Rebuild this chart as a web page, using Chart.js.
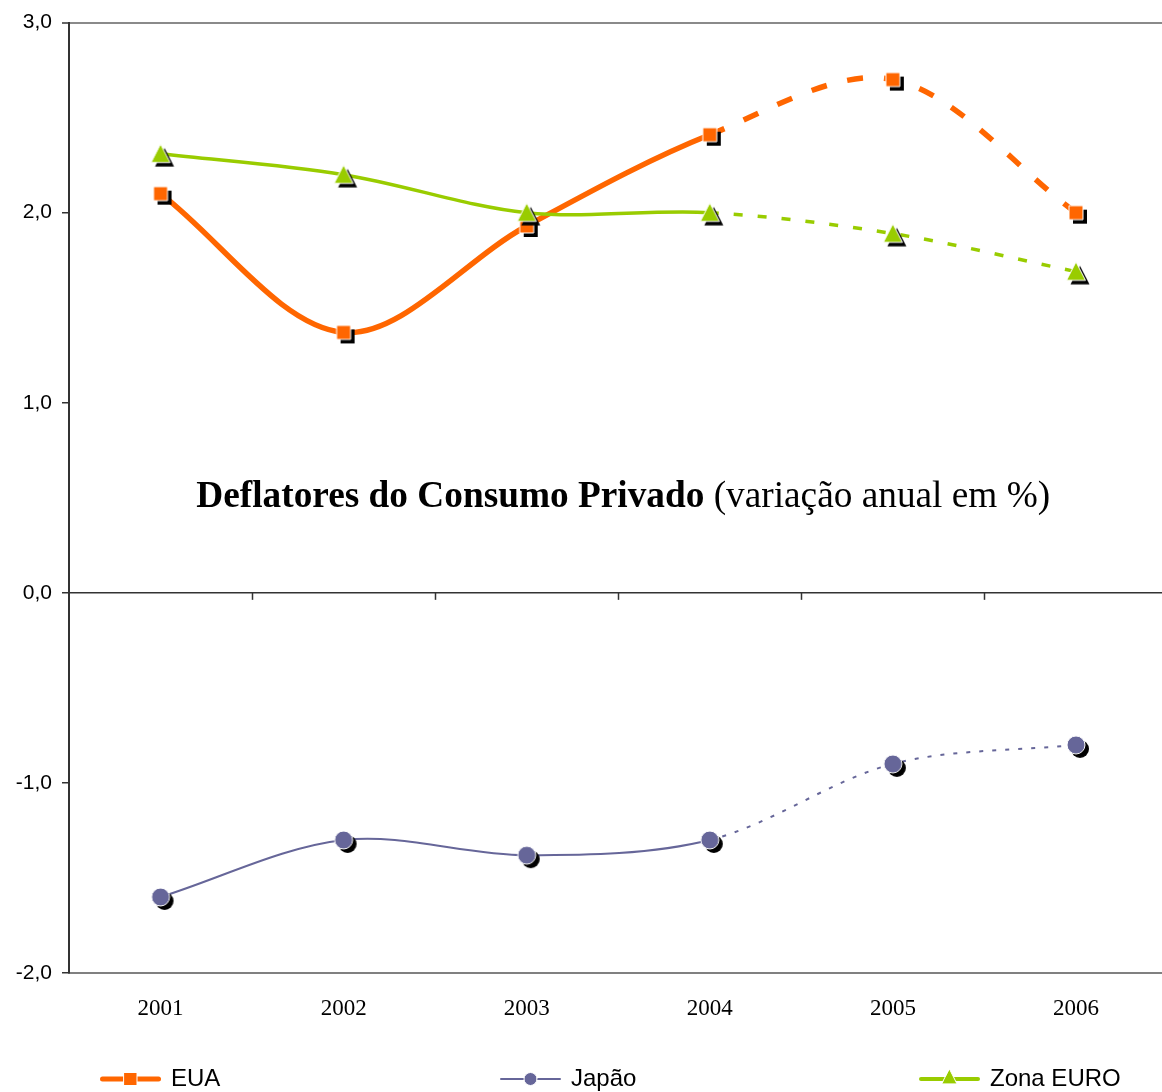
<!DOCTYPE html>
<html>
<head>
<meta charset="utf-8">
<script src="https://cdn.jsdelivr.net/npm/chart.js@4/dist/chart.umd.min.js"></script>
<style>
  html, body { margin: 0; padding: 0; background: #fff; overflow: hidden; }
  #wrap { width: 1162px; height: 1092px; overflow: hidden; position: relative; }
  canvas { display: block; }
</style>
</head>
<body>
<div id="wrap"><canvas id="c" width="1181" height="1092" style="width:1181px;height:1092px"></canvas></div>
<script>
// ---- data ----
const years = ['2001', '2002', '2003', '2004', '2005', '2006'];
const eua = [2.10, 1.37, 1.93, 2.41, 2.70, 2.00];
const japao = [-1.60, -1.30, -1.38, -1.30, -0.90, -0.80];
const zonaEuro = [2.31, 2.20, 2.00, 2.00, 1.89, 1.69];
const yTickValues = [-2, -1, 0, 1, 2, 3];
const yTickLabels = ['-2,0', '-1,0', '0,0', '1,0', '2,0', '3,0'];
const seriesNames = ['EUA', 'Japão', 'Zona EURO'];
const lastActualIndex = 3; // 2004: later years are forecasts (dashed)
const titleBold = 'Deflatores do Consumo Privado';
const titleNormal = ' (variação anual em %)';

const COL_EUA = '#FF6600';
const COL_JAP = '#666699';
const COL_EUR = '#99CC00';

function drawShape(ctx, shape, cx, cy, size, fill, stroke) {
  ctx.beginPath();
  if (shape === 'square') {
    ctx.rect(cx - size / 2, cy - size / 2, size, size);
  } else if (shape === 'circle') {
    ctx.arc(cx, cy, size / 2, 0, Math.PI * 2);
  } else if (shape === 'triangle') {
    const h = size * 0.92;
    ctx.moveTo(cx, cy - h / 2 - 1);
    ctx.lineTo(cx + size / 2, cy + h / 2);
    ctx.lineTo(cx - size / 2, cy + h / 2);
    ctx.closePath();
  }
  ctx.fillStyle = fill;
  ctx.fill();
  if (stroke) {
    ctx.lineWidth = 1;
    ctx.strokeStyle = stroke;
    ctx.stroke();
  }
}

function makeMarker(shape, color, size, off) {
  const c = document.createElement('canvas');
  const half = Math.ceil(size / 2 + off + 3);
  c.width = c.height = half * 2;
  const ctx = c.getContext('2d');
  drawShape(ctx, shape, half + off, half + off, size, '#000', null);
  drawShape(ctx, shape, half, half, size, color, '#fff');
  return c;
}

const mkEua = makeMarker('square', COL_EUA, 14, 4);
const mkJap = makeMarker('circle', COL_JAP, 18, 4);
const mkEur = makeMarker('triangle', COL_EUR, 19, 4);

function dashAfter(pattern) {
  return ctx => (ctx.p0DataIndex >= lastActualIndex ? pattern : undefined);
}

const extras = {
  id: 'extras',
  afterDatasetsDraw(chart) {
    const ctx = chart.ctx;
    const x = chart.scales.x, y = chart.scales.y;
    // small tick marks on the zero line, between categories
    const y0 = y.getPixelForValue(0);
    ctx.save();
    ctx.strokeStyle = '#333';
    ctx.lineWidth = 1.5;
    for (let i = 1; i < years.length; i++) {
      const px = Math.round((x.getPixelForValue(i - 1) + x.getPixelForValue(i)) / 2) + 0.5;
      ctx.beginPath();
      ctx.moveTo(px, y0);
      ctx.lineTo(px, y0 + 7);
      ctx.stroke();
    }
    ctx.restore();
  },
  afterDraw(chart) {
    const ctx = chart.ctx;
    const area = chart.chartArea;
    const y = chart.scales.y;
    // title inside plot
    ctx.save();
    ctx.fillStyle = '#000';
    ctx.textBaseline = 'alphabetic';
    const fB = 'bold 37.3px "Liberation Serif", "Times New Roman", serif';
    const fN = '37.3px "Liberation Serif", "Times New Roman", serif';
    ctx.font = fB; const wB = ctx.measureText(titleBold).width;
    ctx.font = fN; const wN = ctx.measureText(titleNormal).width;
    const cx = (area.left + area.right) / 2 + 5;
    const tx = cx - (wB + wN) / 2;
    const ty = y.getPixelForValue(0.45);
    ctx.font = fB; ctx.fillText(titleBold, tx, ty);
    ctx.font = fN; ctx.fillText(titleNormal, tx + wB, ty);
    ctx.restore();

    // legend
    const ly = 1079;
    const items = [
      { x: 100, color: COL_EUA, lw: 5, shape: 'square', size: 13, name: seriesNames[0] },
      { x: 500, color: COL_JAP, lw: 2, shape: 'circle', size: 13, name: seriesNames[1] },
      { x: 919, color: COL_EUR, lw: 4, shape: 'triangle', size: 15, name: seriesNames[2] }
    ];
    ctx.save();
    items.forEach(it => {
      const len = 61;
      ctx.strokeStyle = it.color;
      ctx.lineWidth = it.lw;
      ctx.lineCap = 'round';
      ctx.beginPath();
      ctx.moveTo(it.x + it.lw / 2, ly);
      ctx.lineTo(it.x + len - it.lw / 2, ly);
      ctx.stroke();
      drawShape(ctx, it.shape, it.x + len / 2, ly - (it.shape === 'triangle' ? 2 : 0), it.size, it.color, '#fff');
      ctx.fillStyle = '#000';
      ctx.font = '24px "Liberation Sans", Arial, sans-serif';
      ctx.textBaseline = 'middle';
      ctx.fillText(it.name, it.x + len + 10, ly);
    });
    ctx.restore();
  }
};

new Chart(document.getElementById('c'), {
  type: 'line',
  data: {
    labels: years,
    datasets: [
      {
        label: seriesNames[2], data: zonaEuro,
        borderColor: COL_EUR, borderWidth: 3.5, tension: 0.33,
        pointStyle: mkEur, pointRadius: 9, pointHoverRadius: 9,
        segment: { borderDash: dashAfter([9, 15]) }
      },
      {
        label: seriesNames[0], data: eua,
        borderColor: COL_EUA, borderWidth: 5.5, tension: 0.33,
        pointStyle: mkEua, pointRadius: 8, pointHoverRadius: 8,
        segment: { borderDash: dashAfter([16, 21]) }
      },
      {
        label: seriesNames[1], data: japao,
        borderColor: COL_JAP, borderWidth: 2, tension: 0.33,
        pointStyle: mkJap, pointRadius: 9, pointHoverRadius: 9,
        segment: { borderDash: dashAfter([4, 9]) }
      }
    ]
  },
  options: {
    responsive: false,
    animation: false,
    events: [],
    clip: false,
    layout: { padding: { top: 19, left: 0, right: 0, bottom: 0 } },
    plugins: { legend: { display: false }, tooltip: { enabled: false }, title: { display: false } },
    scales: {
      x: {
        type: 'category',
        offset: true,
        grid: { display: false, drawTicks: false },
        border: { display: true, color: '#808080', width: 2 },
        ticks: {
          color: '#000', padding: 22, maxRotation: 0,
          font: { family: '"Liberation Serif", "Times New Roman", serif', size: 23 }
        },
        afterFit(scale) { scale.height = 119; }
      },
      y: {
        min: -2, max: 3,
        afterBuildTicks(scale) { scale.ticks = yTickValues.map(v => ({ value: v })); },
        grid: {
          drawOnChartArea: true,
          drawTicks: true,
          tickLength: 7,
          tickColor: '#333',
          tickWidth: 1.5,
          color: c => (c.tick && c.tick.value === 0) ? '#333' : (c.tick && c.tick.value === 3 ? '#8a8a8a' : 'rgba(0,0,0,0)'),
          lineWidth: c => (c.tick && c.tick.value === 3) ? 2 : 1.5
        },
        border: { display: true, color: '#333', width: 2 },
        ticks: {
          color: '#000', padding: 10,
          font: { family: '"Liberation Sans", Arial, sans-serif', size: 21 },
          callback: v => yTickLabels[yTickValues.indexOf(v)]
        },
        afterFit(scale) { scale.width = 69; }
      }
    }
  },
  plugins: [extras]
});
</script>
</body>
</html>
